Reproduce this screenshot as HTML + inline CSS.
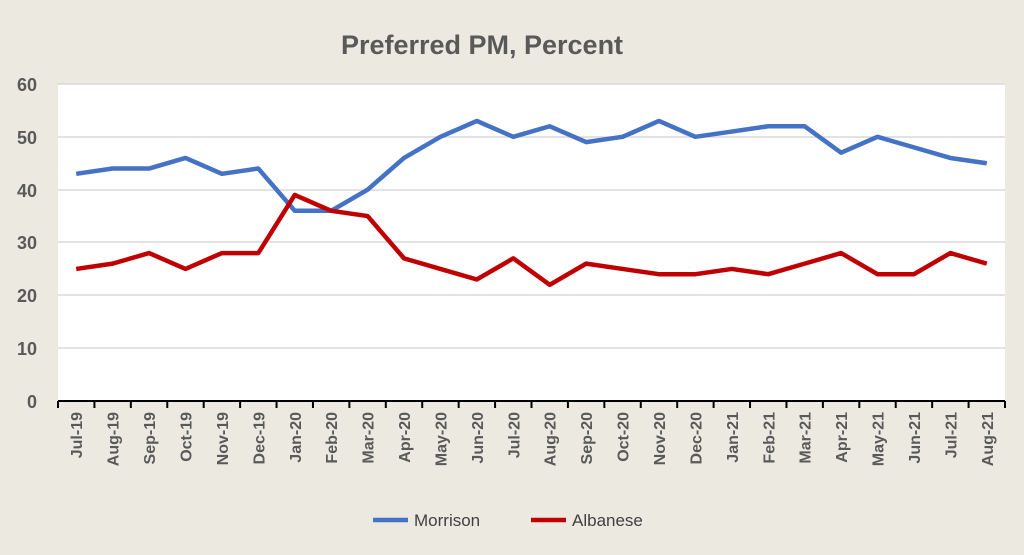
<!DOCTYPE html>
<html><head><style>body{margin:0;background:#eceae0;}</style></head><body>
<svg width="1024" height="550" xmlns="http://www.w3.org/2000/svg" font-family="Liberation Sans, sans-serif">
<rect width="1024" height="550" fill="#eceae0"/>
<rect x="58" y="84" width="947" height="317" fill="#fff"/>
<g stroke="#d9d9d9" stroke-width="1.5">
<line x1="58" x2="1005" y1="84" y2="84"/><line x1="58" x2="1005" y1="137" y2="137"/><line x1="58" x2="1005" y1="190" y2="190"/><line x1="58" x2="1005" y1="242" y2="242"/><line x1="58" x2="1005" y1="295" y2="295"/><line x1="58" x2="1005" y1="348" y2="348"/>
</g>
<text x="482" y="54" text-anchor="middle" font-size="27" font-weight="bold" fill="#595959">Preferred PM, Percent</text>
<g font-size="18" font-weight="bold" fill="#595959" text-anchor="end">
<text x="37" y="91">60</text><text x="37" y="144">50</text><text x="37" y="197">40</text><text x="37" y="249">30</text><text x="37" y="302">20</text><text x="37" y="355">10</text><text x="37" y="408">0</text>
</g>
<g id="ax"></g>
<line x1="58" x2="1005" y1="401" y2="401" stroke="#000" stroke-width="2"/>
<script>
var ns="http://www.w3.org/2000/svg",svg=document.querySelector('svg');
var labs=["Jul-19","Aug-19","Sep-19","Oct-19","Nov-19","Dec-19","Jan-20","Feb-20","Mar-20","Apr-20","May-20","Jun-20","Jul-20","Aug-20","Sep-20","Oct-20","Nov-20","Dec-20","Jan-21","Feb-21","Mar-21","Apr-21","May-21","Jun-21","Jul-21","Aug-21"];
var m=[43,44,44,46,43,44,36,36,40,46,50,53,50,52,49,50,53,50,51,52,52,47,50,48,46,45];
var a=[25,26,28,25,28,28,39,36,35,27,25,23,27,22,26,25,24,24,25,24,26,28,24,24,28,26];
var w=947/26,ax=document.getElementById('ax');
for(var i=0;i<=26;i++){var l=document.createElementNS(ns,'line');var x=58+i*w;l.setAttribute('x1',x);l.setAttribute('x2',x);l.setAttribute('y1',401);l.setAttribute('y2',408);l.setAttribute('stroke','#000');l.setAttribute('stroke-width','2');ax.appendChild(l);}
labs.forEach(function(s,i){var t=document.createElementNS(ns,'text');var x=58+w/2+i*w+6;t.setAttribute('transform','translate('+x+',412) rotate(-90)');t.setAttribute('text-anchor','end');t.setAttribute('font-size','16');t.setAttribute('font-weight','bold');t.setAttribute('fill','#595959');t.textContent=s;svg.appendChild(t);});
function line(d,c){var p=document.createElementNS(ns,'polyline');p.setAttribute('points',d.map(function(v,i){return (58+w/2+i*w)+','+(401-v*317/60)}).join(' '));p.setAttribute('fill','none');p.setAttribute('stroke',c);p.setAttribute('stroke-width','4.5');p.setAttribute('stroke-linejoin','round');svg.appendChild(p);}
line(m,'#4472c4');line(a,'#c00000');
</script>
<line x1="373" x2="408" y1="520" y2="520" stroke="#4472c4" stroke-width="4.5"/>
<text x="414" y="526" font-size="17" fill="#404040">Morrison</text>
<line x1="531" x2="566" y1="520" y2="520" stroke="#c00000" stroke-width="4.5"/>
<text x="572" y="526" font-size="17" fill="#404040">Albanese</text>
</svg>
</body></html>
